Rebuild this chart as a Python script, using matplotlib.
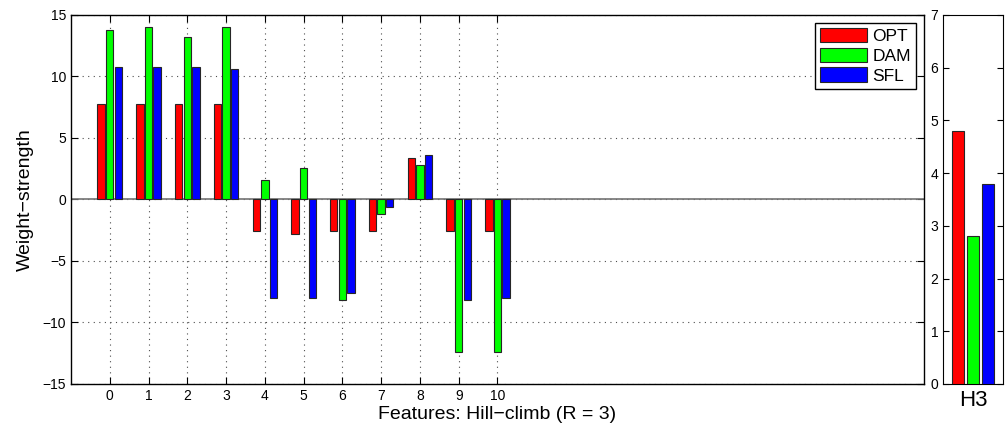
import matplotlib
matplotlib.use('Agg')
import matplotlib.pyplot as plt
import numpy as np

plt.rcParams['font.family'] = ['Liberation Sans', 'DejaVu Sans']

# weights per feature
features = list(range(11))
opt = [7.8, 7.8, 7.8, 7.8, -2.6, -2.8, -2.6, -2.6, 3.4, -2.6, -2.6]
dam = [13.8, 14.0, 13.2, 14.0, 1.6, 2.6, -8.2, -1.2, 2.8, -12.4, -12.4]
sfl = [10.8, 10.8, 10.8, 10.6, -8.0, -8.0, -7.6, -0.6, 3.6, -8.2, -8.0]

# H3 panel
h3_labels = ['H3']
h3_opt = [4.8]
h3_dam = [2.8]
h3_sfl = [3.8]

colors = ['#ff0000', '#00ff00', '#0000ff']
names = ['OPT', 'DAM', 'SFL']

fig = plt.figure(figsize=(10.05, 4.36), dpi=100)
ax = fig.add_axes([0.0706, 0.1193, 0.8488, 0.8463])
ax2 = fig.add_axes([0.9383, 0.1193, 0.0597, 0.8463])

x = np.array(features)
off = 0.222
w = 0.19
for k, (vals, c, n) in enumerate(zip([opt, dam, sfl], colors, names)):
    ax.bar(x + (k - 1) * off, vals, width=w, color=c, edgecolor='0.15',
           linewidth=0.8, label=n, zorder=3)
ax.axhline(0, color='0.45', lw=1.2, zorder=2)

ax.set_xlim(-1, 21)
ax.set_ylim(-15, 15)
ax.set_xticks(features)
ax.set_yticks(np.arange(-15, 16, 5))
ax.grid(True, linestyle=(0, (1, 4)), color='0.3', linewidth=0.8, zorder=0)
ax.tick_params(direction='in', top=True, right=True, labelsize=10, length=5)
ax.set_xlabel('Features: Hill\u2212climb (R = 3)', fontsize=14, labelpad=2)
ax.set_ylabel('Weight\u2212strength', fontsize=14, labelpad=6)
ax.yaxis.set_major_formatter(matplotlib.ticker.FuncFormatter(
    lambda v, p: ('%d' % v).replace('-', '\u2212')))
for s in ax.spines.values():
    s.set_linewidth(1.0)
leg = ax.legend(loc='upper right', fontsize=12.5, handlelength=2.7,
                handleheight=0.9, borderpad=0.3, labelspacing=0.2,
                handletextpad=0.3, fancybox=False, framealpha=1,
                edgecolor='black', borderaxespad=0.45)
leg.get_frame().set_linewidth(1.0)

hx = np.arange(len(h3_labels)) + 1
for k, (vals, c) in enumerate(zip([h3_opt, h3_dam, h3_sfl], colors)):
    ax2.bar(hx + (k - 1) * 0.25, vals, width=0.205, color=c, edgecolor='0.15',
            linewidth=0.8, zorder=3)
ax2.set_xlim(0.5, 1.5)
ax2.set_ylim(0, 7)
ax2.set_yticks(range(8))
ax2.set_xticks(hx)
ax2.set_xticklabels(h3_labels, fontsize=16)
ax2.tick_params(axis='y', direction='in', right=True, labelsize=10, length=4)
ax2.tick_params(axis='x', length=0, pad=4)

fig.savefig('out.png', dpi=100)
